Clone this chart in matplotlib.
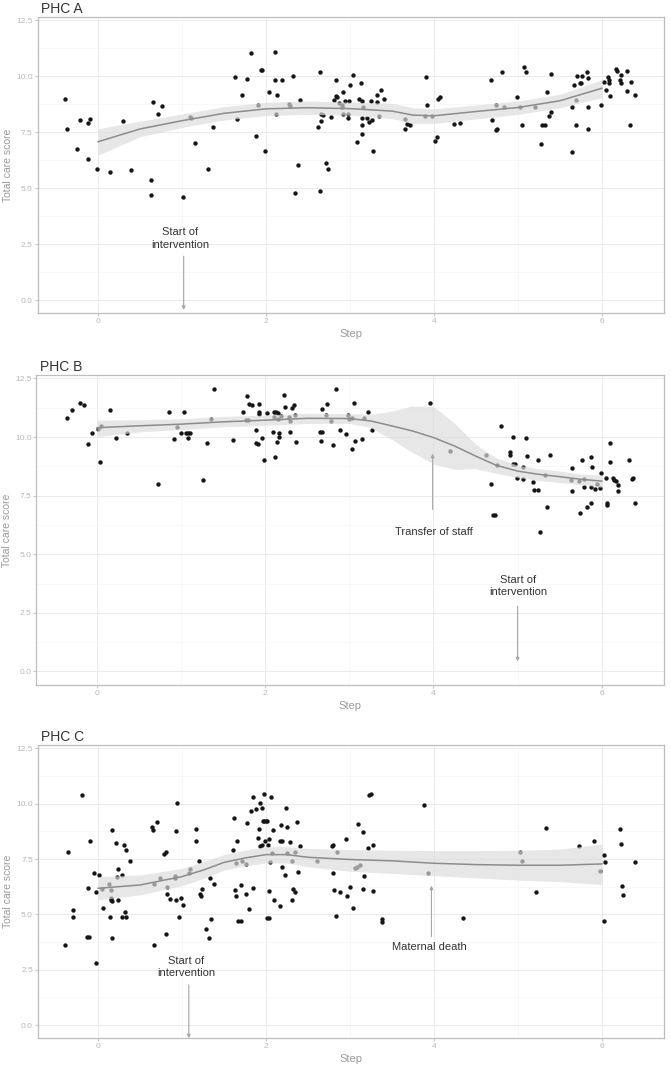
import matplotlib
matplotlib.use("Agg")
import matplotlib.pyplot as plt
from matplotlib.ticker import MultipleLocator

# ---------------- PHC A ----------------
a_x = [-0.39, -0.37, -0.25, -0.21, -0.12, -0.10, -0.12, -0.01, 0.14, 0.30, 0.39, 0.63, 0.63, 0.66, 0.72, 0.76,
       1.01, 1.09, 1.11, 1.16, 1.31, 1.37, 1.63, 1.65, 1.72, 1.77, 1.82, 1.88, 1.90, 1.94, 1.95, 1.99, 2.04,
       2.11, 2.11, 2.12, 2.13, 2.19, 2.28, 2.29, 2.32, 2.34, 2.38, 2.40, 2.62, 2.64, 2.66, 2.66, 2.64, 2.68,
       2.72, 2.74, 2.78, 2.81, 2.83, 2.83, 2.85, 2.87, 2.90, 2.91, 2.92, 2.92, 2.94, 2.98, 2.98, 2.99, 3.00,
       3.04, 3.08, 3.11, 3.13, 3.14, 3.15, 3.14, 3.14, 3.14, 3.20, 3.23, 3.25, 3.26, 3.27, 3.32, 3.32, 3.35,
       3.37, 3.41, 3.65, 3.66, 3.68, 3.72, 3.89, 3.91, 3.92, 3.98, 4.01, 4.04, 4.05, 4.07, 4.24, 4.31, 4.68,
       4.69, 4.74, 4.75, 4.74, 4.81, 4.84, 4.99, 5.03, 5.05, 5.07, 5.10, 5.21, 5.27, 5.29, 5.32, 5.35, 5.37,
       5.39, 5.40, 5.64, 5.65, 5.67, 5.69, 5.69, 5.70, 5.74, 5.75, 5.76, 5.82, 5.83, 5.84, 5.84, 5.99, 6.03,
       6.05, 6.07, 6.08, 6.09, 6.10, 6.17, 6.18, 6.22, 6.23, 6.23, 6.30, 6.30, 6.34, 6.35, 6.39]
a_y = [9.00, 7.65, 6.76, 8.06, 7.91, 8.09, 6.32, 5.84, 5.74, 7.99, 5.80, 5.37, 4.69, 8.87, 8.33, 8.67,
       4.62, 8.18, 8.12, 7.03, 5.87, 7.75, 9.98, 8.09, 9.19, 9.89, 11.03, 7.35, 8.70, 10.27, 10.27, 6.65, 9.29,
       11.07, 9.84, 8.33, 9.16, 9.84, 8.77, 8.68, 10.00, 4.79, 6.04, 8.95, 7.75, 10.18, 8.00, 8.33, 4.89, 8.27,
       6.12, 5.84, 8.19, 8.94, 9.84, 9.11, 9.07, 8.80, 8.73, 8.62, 9.29, 8.33, 8.91, 8.33, 8.16, 8.91, 9.60,
       10.05, 7.07, 8.99, 9.72, 8.88, 8.62, 8.14, 7.81, 7.41, 8.16, 7.94, 8.88, 8.03, 6.65, 8.85, 9.19, 8.22,
       9.38, 9.00, 8.09, 7.67, 7.88, 7.81, 8.24, 9.98, 8.72, 8.24, 7.13, 7.30, 9.00, 9.06, 7.88, 7.91, 9.84,
       8.04, 7.59, 7.64, 8.70, 10.21, 8.65, 9.06, 8.65, 7.81, 10.41, 10.21, 8.62, 6.96, 7.84, 7.81, 9.29, 8.22,
       8.40, 10.12, 8.65, 6.62, 9.60, 7.84, 8.95, 10.00, 9.72, 9.72, 10.03, 10.19, 9.91, 8.62, 7.63, 8.70, 9.75,
       9.38, 9.98, 9.72, 9.86, 9.14, 10.34, 10.25, 9.86, 10.06, 9.72, 10.25, 9.35, 7.84, 9.75, 9.16]
a_sx = [0, 0.5, 1, 1.5, 2, 2.5, 3, 3.5, 3.75, 4, 4.5, 5, 5.5, 6]
a_sy = [7.08, 7.65, 8.02, 8.35, 8.55, 8.60, 8.56, 8.45, 8.27, 8.24, 8.43, 8.61, 8.91, 9.47]
a_hi = [7.66, 8.00, 8.32, 8.65, 8.85, 8.90, 8.85, 8.80, 8.60, 8.55, 8.72, 8.90, 9.20, 9.85]
a_lo = [6.48, 7.30, 7.72, 8.05, 8.25, 8.30, 8.27, 8.12, 7.90, 7.90, 8.10, 8.30, 8.60, 9.05]

# ---------------- PHC B ----------------
b_x = [-0.36, -0.30, -0.20, -0.16, -0.11, -0.06, 0.01, 0.05, 0.04, 0.16, 0.22, 0.36, 0.73, 0.86, 0.91, 0.95,
       1.00, 1.03, 1.06, 1.08, 1.10, 1.08, 1.26, 1.31, 1.36, 1.39, 1.62, 1.74, 1.77, 1.79, 1.78, 1.81, 1.84,
       1.89, 1.89, 1.91, 1.93, 1.93, 1.93, 1.96, 1.99, 2.02, 2.09, 2.11, 2.13, 2.10, 2.12, 2.14, 2.15, 2.16,
       2.16, 2.15, 2.19, 2.22, 2.23, 2.28, 2.30, 2.30, 2.32, 2.34, 2.35, 2.37, 2.65, 2.68, 2.66, 2.68, 2.72,
       2.73, 2.78, 2.81, 2.84, 2.89, 2.96, 2.98, 2.99, 3.03, 3.03, 3.05, 3.07, 3.15, 3.17, 3.22, 3.27, 3.96,
       4.20, 4.63, 4.68, 4.71, 4.73, 4.75, 4.80, 4.91, 4.91, 4.94, 4.94, 4.97, 4.99, 5.06, 5.07, 5.10, 5.11,
       5.18, 5.20, 5.24, 5.24, 5.27, 5.32, 5.35, 5.38, 5.65, 5.65, 5.64, 5.73, 5.74, 5.77, 5.79, 5.79, 5.83,
       5.87, 5.87, 5.87, 5.88, 5.92, 5.94, 5.98, 5.99, 6.05, 6.06, 6.06, 6.10, 6.10, 6.13, 6.15, 6.17, 6.19,
       6.19, 6.33, 6.36, 6.37, 6.39]
b_y = [10.82, 11.15, 11.46, 11.36, 9.72, 10.16, 10.36, 10.48, 8.94, 11.15, 9.98, 10.16, 7.98, 11.05, 9.91, 10.45,
       10.16, 11.09, 10.16, 10.16, 10.16, 9.96, 8.15, 9.75, 10.76, 12.06, 9.88, 11.09, 10.72, 10.72, 11.74, 11.43, 11.37,
       10.29, 9.73, 9.71, 11.00, 11.06, 11.39, 9.95, 9.04, 11.02, 10.22, 11.05, 11.05, 10.87, 9.15, 9.79, 11.02, 10.16,
       10.00, 10.75, 10.90, 11.80, 11.30, 10.87, 10.23, 10.68, 11.26, 11.37, 10.95, 9.79, 10.22, 10.22, 9.82, 11.20, 10.95,
       11.43, 10.70, 9.66, 12.04, 10.32, 10.11, 10.95, 10.75, 10.83, 9.48, 11.46, 9.85, 9.91, 10.83, 11.05, 10.32, 11.46,
       9.41, 9.22, 8.00, 6.68, 6.67, 8.81, 10.46, 9.35, 9.24, 10.00, 8.84, 8.87, 8.27, 8.72, 8.22, 9.98, 9.21,
       8.07, 7.74, 7.73, 9.04, 5.97, 8.37, 7.03, 9.25, 8.68, 7.71, 8.17, 8.14, 6.76, 9.02, 8.20, 7.87, 7.03,
       9.14, 7.20, 7.88, 8.71, 7.77, 7.98, 7.84, 8.45, 8.25, 7.17, 7.10, 9.73, 8.92, 8.25, 8.15, 8.11, 7.97,
       7.70, 9.01, 8.20, 8.27, 7.20]
b_sx = [0, 0.5, 1, 1.5, 2, 2.5, 3, 3.25, 3.5, 3.75, 4, 4.25, 4.5, 4.75, 5, 5.25, 5.5, 5.75, 6]
b_sy = [10.40, 10.48, 10.55, 10.65, 10.72, 10.80, 10.79, 10.69, 10.48, 10.26, 9.98, 9.62, 9.19, 8.79, 8.55, 8.41, 8.31, 8.20, 8.12]
b_hi = [10.72, 10.74, 10.78, 10.88, 10.94, 11.02, 11.00, 10.97, 11.10, 11.33, 11.30, 10.60, 9.70, 9.10, 8.80, 8.65, 8.55, 8.42, 8.38]
b_lo = [10.02, 10.22, 10.32, 10.44, 10.50, 10.58, 10.58, 10.42, 9.90, 9.35, 8.85, 8.62, 8.65, 8.45, 8.28, 8.15, 8.06, 7.97, 7.86]

# ---------------- PHC C ----------------
c_x = [-0.39, -0.36, -0.30, -0.30, -0.19, -0.13, -0.11, -0.12, -0.10, -0.05, -0.03, -0.03, 0.01, 0.06, 0.05, 0.13,
       0.14, 0.15, 0.15, 0.16, 0.15, 0.17, 0.17, 0.21, 0.22, 0.24, 0.24, 0.29, 0.29, 0.33, 0.31, 0.33, 0.32,
       0.38, 0.64, 0.65, 0.66, 0.66, 0.70, 0.74, 0.79, 0.81, 0.81, 0.82, 0.82, 0.86, 0.91, 0.91, 0.93, 0.93,
       0.94, 0.96, 0.99, 1.01, 1.08, 1.10, 1.16, 1.17, 1.20, 1.21, 1.23, 1.24, 1.28, 1.32, 1.33, 1.35, 1.38,
       1.61, 1.62, 1.63, 1.64, 1.64, 1.65, 1.67, 1.70, 1.70, 1.71, 1.76, 1.76, 1.77, 1.80, 1.82, 1.84, 1.85,
       1.88, 1.91, 1.92, 1.93, 1.93, 1.95, 1.95, 1.97, 1.96, 1.98, 2.00, 2.01, 1.99, 2.02, 2.01, 2.03, 2.03,
       2.04, 2.05, 2.07, 2.06, 2.08, 2.10, 2.17, 2.17, 2.19, 2.18, 2.19, 2.23, 2.24, 2.25, 2.25, 2.29, 2.31,
       2.31, 2.32, 2.35, 2.35, 2.37, 2.38, 2.40, 2.61, 2.79, 2.80, 2.80, 2.81, 2.83, 2.85, 2.88, 2.95, 2.97,
       3.00, 3.04, 3.06, 3.08, 3.10, 3.12, 3.15, 3.16, 3.17, 3.21, 3.23, 3.25, 3.28, 3.28, 3.38, 3.38, 3.88,
       3.93, 4.35, 5.03, 5.05, 5.21, 5.33, 5.73, 5.91, 5.98, 6.02, 6.02, 6.04, 6.22, 6.23, 6.24, 6.25, 6.39]
c_y = [3.61, 7.82, 5.20, 4.90, 10.38, 3.97, 3.97, 6.20, 8.30, 6.89, 2.81, 6.00, 6.77, 5.31, 6.14, 6.38,
       4.90, 5.66, 5.76, 5.60, 6.09, 3.94, 8.83, 8.23, 6.71, 7.05, 5.66, 6.77, 4.90, 4.87, 8.12, 7.93, 5.13,
       7.39, 8.93, 8.80, 3.63, 6.39, 9.19, 6.63, 7.72, 7.84, 4.11, 6.26, 5.93, 5.70, 6.75, 6.63, 5.67, 8.78,
       10.02, 4.87, 5.76, 5.42, 6.86, 7.04, 8.84, 8.32, 7.39, 5.90, 5.85, 6.14, 4.33, 3.94, 6.66, 4.80, 6.36,
       7.91, 9.37, 6.09, 7.31, 5.81, 8.32, 4.71, 4.72, 6.33, 7.39, 7.27, 5.94, 9.13, 5.26, 9.69, 10.29, 6.21,
       9.76, 8.45, 8.86, 10.03, 8.08, 8.12, 9.79, 10.45, 9.22, 9.22, 9.22, 9.22, 8.30, 8.12, 4.86, 4.86, 8.42,
       6.06, 7.36, 7.79, 10.29, 8.80, 5.66, 5.36, 8.33, 8.30, 9.04, 7.14, 6.78, 9.79, 8.96, 7.79, 8.27, 5.66,
       7.43, 6.15, 7.82, 6.00, 9.19, 6.93, 8.09, 7.43, 8.09, 8.14, 6.86, 6.11, 4.93, 7.82, 6.03, 8.39, 5.81,
       6.23, 5.31, 7.11, 7.16, 9.09, 7.24, 8.72, 6.17, 6.74, 7.99, 10.39, 10.42, 8.15, 6.06, 4.80, 4.65, 9.94,
       6.86, 4.83, 7.82, 7.43, 6.03, 8.92, 8.09, 8.32, 6.96, 4.71, 7.67, 7.36, 8.84, 8.18, 6.29, 5.88, 7.36]
c_sx = [0, 0.5, 1, 1.25, 1.5, 1.75, 2, 2.25, 2.5, 3, 3.5, 4, 4.5, 5, 5.5, 6]
c_sy = [6.18, 6.33, 6.71, 7.00, 7.35, 7.55, 7.70, 7.70, 7.58, 7.48, 7.42, 7.31, 7.25, 7.22, 7.22, 7.28]
c_hi = [6.71, 6.78, 7.08, 7.38, 7.70, 7.90, 8.06, 8.06, 7.98, 7.93, 7.90, 7.88, 7.88, 7.90, 7.95, 8.18]
c_lo = [5.66, 5.88, 6.30, 6.62, 7.00, 7.20, 7.32, 7.32, 7.15, 6.95, 6.85, 6.75, 6.65, 6.55, 6.48, 6.35]

titles = ["PHC A", "PHC B", "PHC C"]
x_ticks = [0, 2, 4, 6]
y_ticks = [0.0, 2.5, 5.0, 7.5, 10.0, 12.5]

# annotations: (text, text_x, text_y, arrow_x, arrow_from_y, arrow_to_y)
ann_a = [("Start of\nintervention", 0.98, 2.75, 1.02, 1.96, -0.44)]
ann_b = [("Transfer of staff", 4.0, 5.94, 3.99, 6.91, 9.29),
         ("Start of\nintervention", 5.01, 3.65, 5.0, 2.78, 0.43)]
ann_c = [("Start of\nintervention", 1.05, 2.62, 1.08, 1.82, -0.59),
         ("Maternal death", 3.94, 3.55, 3.97, 4.0, 6.30)]

panels = [
    (a_x, a_y, a_sx, a_sy, a_lo, a_hi, ann_a, [0.056, 0.7077, 0.9335, 0.2763]),
    (b_x, b_y, b_sx, b_sy, b_lo, b_hi, ann_b, [0.0543, 0.3604, 0.9352, 0.2895]),
    (c_x, c_y, c_sx, c_sy, c_lo, c_hi, ann_c, [0.0562, 0.0308, 0.9333, 0.2736]),
]

fig = plt.figure(figsize=(6.71, 10.71), dpi=100)
nfont = ["Liberation Sans", "DejaVu Sans"]

for title, (px, py, sx, sy, lo, hi, anns, rect) in zip(titles, panels):
    ax = fig.add_axes(rect)
    ax.set_xlim(-0.72, 6.74)
    ax.set_ylim(-0.58, 12.65)
    ax.xaxis.set_minor_locator(MultipleLocator(1))
    ax.yaxis.set_minor_locator(MultipleLocator(1.25))
    ax.set_xticks(x_ticks)
    ax.set_xticklabels([str(v) for v in x_ticks], family=nfont)
    ax.set_yticks(y_ticks)
    ax.set_yticklabels([f"{v:.1f}" for v in y_ticks], family=nfont)
    ax.grid(which="major", color="#ebebeb", linewidth=0.7)
    ax.grid(which="minor", color="#f5f5f5", linewidth=0.5)
    ax.set_axisbelow(True)
    for sp in ax.spines.values():
        sp.set_color("#bdbdbd")
        sp.set_linewidth(0.9)
    ax.tick_params(which="both", length=2, color="#c8c8c8", labelsize=6, labelcolor="#b8b8b8", pad=1.5)
    ax.tick_params(which="minor", length=0)

    ax.scatter(px, py, s=10, color="#161616", linewidths=0, zorder=2)
    ax.fill_between(sx, lo, hi, color="#dcdcdc", alpha=0.68, linewidth=0, zorder=3)
    ax.plot(sx, sy, color="#8c8c8c", linewidth=1.1, zorder=4)

    for text, tx, ty, axx, y0, y1 in anns:
        ax.text(tx, ty, text, ha="center", va="center", fontsize=8, color="#333333",
                family=nfont, linespacing=1.3, zorder=5)
        ax.annotate("", xy=(axx, y1), xytext=(axx, y0),
                    arrowprops=dict(arrowstyle="-|>", color="#a6a6a6", lw=0.8,
                                    mutation_scale=5, shrinkA=0, shrinkB=0), zorder=5)

    ax.set_xlabel("Step", fontsize=8, color="#9a9a9a", labelpad=3, family=nfont)
    ax.set_ylabel("Total care score", fontsize=7.5, color="#9a9a9a", labelpad=2, family=nfont)
    ax.set_title(title, loc="left", fontsize=10, color="#333333", pad=3, x=0.005, family=nfont)

fig.savefig("out.png", dpi=100)
